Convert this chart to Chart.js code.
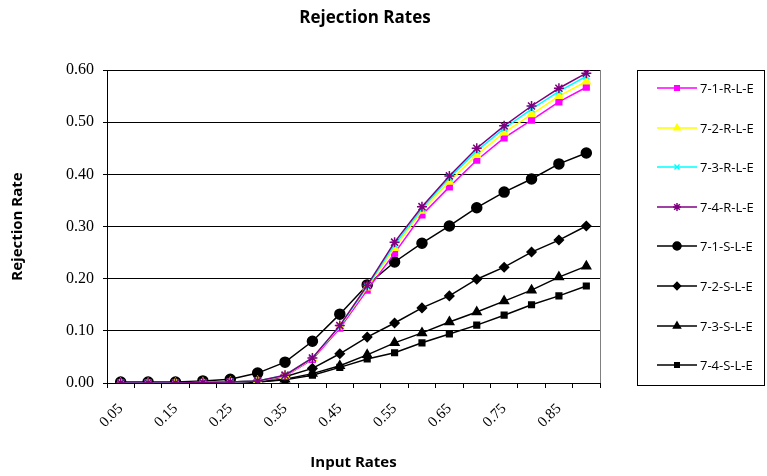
<!DOCTYPE html>
<html>
<head>
<meta charset="utf-8">
<script src="https://cdn.jsdelivr.net/npm/chart.js@4"></script>
<style>
  html, body { margin: 0; padding: 0; background: #fff; }
  #wrap { width: 767px; height: 476px; position: relative; }
</style>
</head>
<body>
<div id="wrap"><canvas id="rejChart"></canvas></div>
<script>
// input rates (categories)
var inputRates = ["0.05", "0.10", "0.15", "0.20", "0.25", "0.30", "0.35", "0.40", "0.45",
                  "0.50", "0.55", "0.60", "0.65", "0.70", "0.75", "0.80", "0.85", "0.90"];

// rejection rates per series
var r71 = [0, 0, 0, 0.001, 0.002, 0.004, 0.013, 0.045, 0.105, 0.178, 0.249, 0.322, 0.376, 0.427, 0.470, 0.504, 0.539, 0.567];
var r72 = [0, 0, 0, 0.001, 0.002, 0.004, 0.014, 0.047, 0.108, 0.183, 0.259, 0.330, 0.386, 0.437, 0.480, 0.515, 0.550, 0.578];
var r73 = [0, 0, 0, 0.001, 0.002, 0.004, 0.015, 0.048, 0.109, 0.185, 0.265, 0.334, 0.393, 0.445, 0.488, 0.525, 0.559, 0.588];
var r74 = [0, 0, 0, 0.001, 0.002, 0.004, 0.015, 0.048, 0.110, 0.187, 0.270, 0.338, 0.397, 0.450, 0.493, 0.531, 0.565, 0.594];
var s71 = [0.002, 0.002, 0.002, 0.004, 0.007, 0.019, 0.040, 0.080, 0.132, 0.188, 0.232, 0.268, 0.301, 0.336, 0.366, 0.391, 0.420, 0.441];
var s72 = [0, 0, 0, 0.001, 0.002, 0.004, 0.012, 0.028, 0.056, 0.088, 0.115, 0.144, 0.167, 0.199, 0.222, 0.251, 0.274, 0.301];
var s73 = [0, 0, 0, 0, 0.001, 0.002, 0.007, 0.018, 0.033, 0.054, 0.077, 0.096, 0.117, 0.136, 0.157, 0.178, 0.203, 0.224];
var s74 = [0, 0, 0, 0, 0.001, 0.002, 0.006, 0.015, 0.030, 0.046, 0.058, 0.077, 0.094, 0.111, 0.130, 0.150, 0.167, 0.186];

var seriesNames = ["7-1-R-L-E", "7-2-R-L-E", "7-3-R-L-E", "7-4-R-L-E",
                   "7-1-S-L-E", "7-2-S-L-E", "7-3-S-L-E", "7-4-S-L-E"];

var yTicks = [0, 0.1, 0.2, 0.3, 0.4, 0.5, 0.6];

function mkSet(label, data, color, style, radius, order) {
  return {
    label: label,
    data: data,
    borderColor: color,
    backgroundColor: color,
    borderWidth: 1.5,
    pointStyle: style,
    pointRadius: radius,
    pointHoverRadius: radius,
    pointBorderWidth: 1.5,
    tension: 0,
    order: order
  };
}

var datasets = [
  mkSet(seriesNames[0], r71, "#ff00ff", "rect", 4, 4),
  mkSet(seriesNames[1], r72, "#ffff00", "triangle", 4.5, 3),
  mkSet(seriesNames[2], r73, "#00ffff", "crossRot", 4.5, 2),
  mkSet(seriesNames[3], r74, "#800080", "star", 5, 1),
  mkSet(seriesNames[4], s71, "#000000", "circle", 5, 5),
  mkSet(seriesNames[5], s72, "#000000", "rectRot", 4.5, 6),
  mkSet(seriesNames[6], s73, "#000000", "triangle", 5, 7),
  mkSet(seriesNames[7], s74, "#000000", "rect", 4, 8)
];

// title, right border and boxed legend
var decor = {
  id: "decor",
  afterDraw: function (chart) {
    var ctx = chart.ctx;
    var area = chart.chartArea;
    ctx.save();
    // title
    ctx.fillStyle = "#000";
    ctx.font = "bold 17px 'Open Sans'";
    ctx.textAlign = "center";
    ctx.textBaseline = "middle";
    ctx.fillText("Rejection Rates", 365, 18);

    // plot right edge
    ctx.strokeStyle = "#808080";
    ctx.lineWidth = 1;
    ctx.beginPath();
    ctx.moveTo(Math.round(area.right) + 0.5, area.top);
    ctx.lineTo(Math.round(area.right) + 0.5, area.bottom);
    ctx.stroke();

    // legend box
    ctx.strokeStyle = "#000";
    ctx.strokeRect(637.5, 70.5, 127, 315);
    ctx.font = "13px 'Open Sans'";
    ctx.textAlign = "left";
    chart.data.datasets.forEach(function (ds, i) {
      var y = Math.round(88 + i * 39.6);
      ctx.strokeStyle = ds.borderColor;
      ctx.lineWidth = 1.5;
      ctx.beginPath();
      ctx.moveTo(657, y);
      ctx.lineTo(697, y);
      ctx.stroke();
      ctx.fillStyle = ds.backgroundColor;
      Chart.helpers.drawPoint(ctx, {
        pointStyle: ds.pointStyle,
        radius: ds.pointRadius * 0.8,
        rotation: 0,
        borderWidth: 1.5
      }, 677, y);
      ctx.fillStyle = "#000";
      ctx.fillText(ds.label, 700, y + 1);
    });
    ctx.restore();
  }
};

document.addEventListener("DOMContentLoaded", function () {
  var ctx = document.getElementById("rejChart").getContext("2d");
  var lineChart = new Chart(ctx, {
    type: "line",
    data: {
      labels: inputRates,
      datasets: datasets
    },
    options: {
      responsive: true,
      maintainAspectRatio: false,
      animation: false,
      layout: {
        padding: { left: 0, right: 167, top: 70, bottom: 0 }
      },
      plugins: {
        legend: { display: false },
        title: { display: false },
        tooltip: { enabled: false }
      },
      scales: {
        x: {
          type: "category",
          offset: true,
          afterFit: function (scale) { scale.height = 93; },
          grid: {
            offset: true,
            drawOnChartArea: false,
            drawTicks: true,
            tickLength: 5,
            color: "#000"
          },
          border: { color: "#000", width: 1 },
          ticks: {
            autoSkip: false,
            maxRotation: 45,
            minRotation: 45,
            color: "#000",
            padding: 12,
            font: { family: "'Liberation Serif'", size: 15 },
            callback: function (val, idx) {
              return idx % 2 === 0 ? this.getLabelForValue(val) : "";
            }
          },
          title: {
            display: true,
            text: "Input Rates",
            color: "#000",
            font: { family: "'Open Sans'", size: 15, weight: "bold" },
            padding: { top: 0, bottom: 4 }
          }
        },
        y: {
          min: 0,
          max: 0.6,
          afterFit: function (scale) { scale.width = 107; },
          afterBuildTicks: function (scale) {
            scale.ticks = yTicks.map(function (v) { return { value: v }; });
          },
          grid: {
            color: "#000",
            lineWidth: 1,
            drawTicks: true,
            tickLength: 4
          },
          border: { color: "#000", width: 1 },
          ticks: {
            color: "#000",
            padding: 9,
            font: { family: "'Liberation Serif'", size: 16 },
            callback: function (v) { return v.toFixed(2); }
          },
          title: {
            display: true,
            text: "Rejection Rate",
            color: "#000",
            font: { family: "'Open Sans'", size: 15, weight: "bold" },
            padding: { top: 9, bottom: 0 }
          }
        }
      }
    },
    plugins: [decor]
  });
});
</script>
</body>
</html>
